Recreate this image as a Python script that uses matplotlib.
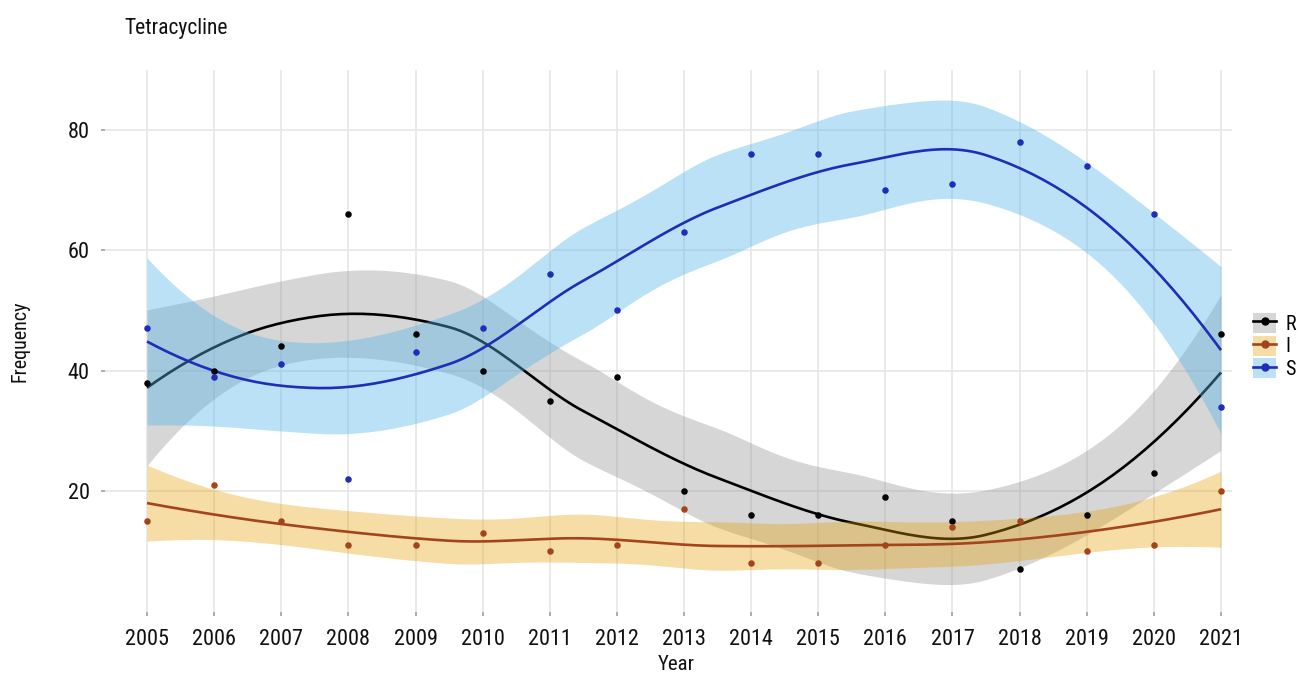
import math
import numpy as np
import matplotlib
matplotlib.use("Agg")
import matplotlib.pyplot as plt
from matplotlib import font_manager
from matplotlib.lines import Line2D
from matplotlib.patches import Patch

# ---- data -------------------------------------------------------------
years = [2005, 2006, 2007, 2008, 2009, 2010, 2011, 2012, 2013,
         2014, 2015, 2016, 2017, 2018, 2019, 2020, 2021]
resistant = [38, 40, 44, 66, 46, 40, 35, 39, 20, 16, 16, 19, 15, 7, 16, 23, 46]
intermediate = [15, 21, 15, 11, 11, 13, 10, 11, 17, 8, 8, 11, 14, 15, 10, 11, 20]
susceptible = [47, 39, 41, 22, 43, 47, 56, 50, 63, 76, 76, 70, 71, 78, 74, 66, 34]

series_names = ["R", "I", "S"]
y_ticks = [20, 40, 60, 80]

# ---- fonts ------------------------------------------------------------
available = {f.name for f in font_manager.fontManager.ttflist}
family = "DejaVu Sans"
for cand in ["Liberation Sans Narrow", "Roboto Condensed", "Liberation Sans"]:
    if cand in available:
        family = cand
        break
plt.rcParams["font.family"] = [family, "DejaVu Sans"]


# ---- local quadratic regression (loess, span 0.75) with 95% band --------
def local_rows(x, x0, span=0.75):
    """Operator rows giving the local fit value and slope at x0."""
    n = len(x)
    q = int(np.floor(n * span))
    d = np.abs(x - x0)
    h = np.sort(d)[q - 1]
    u = np.clip(d / h, 0, 1)
    w = (1 - u ** 3) ** 3
    X = np.column_stack([np.ones(n), x - x0, (x - x0) ** 2])
    XtW = X.T * w
    sol = np.linalg.solve(XtW @ X, XtW)
    return sol[0], sol[1]


def kd_vertices(x, span=0.75, cell=0.2):
    xs = np.sort(x)
    n = len(xs)
    fc = int(np.floor(n * span * cell))
    margin = 0.005 * (xs[-1] - xs[0])
    verts = {xs[0] - margin, xs[-1] + margin}

    def split(lo, hi):
        if hi - lo + 1 <= fc:
            return
        m = (lo + hi) // 2
        verts.add((xs[m] + xs[m + 1]) / 2)
        split(lo, m)
        split(m + 1, hi)

    split(0, n - 1)
    return np.array(sorted(verts))


def loess_operator(x, xnew, span=0.75):
    """Fitted-value operator, interpolated between kd-tree vertices."""
    v = kd_vertices(x, span)
    vals, slopes = zip(*(local_rows(x, vv, span) for vv in v))
    vals, slopes = np.array(vals), np.array(slopes)
    L = np.zeros((len(xnew), len(x)))
    for k, x0 in enumerate(xnew):
        j = int(np.clip(np.searchsorted(v, x0) - 1, 0, len(v) - 2))
        a, b = v[j], v[j + 1]
        hh = b - a
        t = (x0 - a) / hh
        h00 = 2 * t ** 3 - 3 * t ** 2 + 1
        h10 = t ** 3 - 2 * t ** 2 + t
        h01 = -2 * t ** 3 + 3 * t ** 2
        h11 = t ** 3 - t ** 2
        L[k] = (h00 * vals[j] + h10 * hh * slopes[j]
                + h01 * vals[j + 1] + h11 * hh * slopes[j + 1])
    return L


def t_quantile(p, df):
    c = math.exp(math.lgamma((df + 1) / 2) - math.lgamma(df / 2)) / math.sqrt(df * math.pi)
    grid = np.linspace(0, 20, 200001)
    pdf = c * (1 + grid ** 2 / df) ** (-(df + 1) / 2)
    cdf = 0.5 + np.concatenate([[0], np.cumsum((pdf[1:] + pdf[:-1]) / 2 * np.diff(grid))])
    return float(np.interp(p, cdf, grid))


def loess_smooth(x, y, xnew, level=0.95):
    x = np.asarray(x, float)
    y = np.asarray(y, float)
    Lfit = loess_operator(x, x)
    Lnew = loess_operator(x, xnew)
    resid = y - Lfit @ y
    IL = np.eye(len(x)) - Lfit
    M = IL.T @ IL
    d1 = np.trace(M)
    d2 = np.trace(M @ M)
    sigma = math.sqrt(np.sum(resid ** 2) / d1)
    se = sigma * np.sqrt(np.sum(Lnew ** 2, axis=1))
    tq = t_quantile(0.5 + level / 2, d1 ** 2 / d2)
    fit = Lnew @ y
    return fit, fit - tq * se, fit + tq * se


# ---- figure -----------------------------------------------------------
fig = plt.figure(figsize=(13.01, 6.75), dpi=100)
ax = fig.add_axes([105 / 1301, 1 - 612 / 675, 1127 / 1301, 542 / 675])

line_colors = ["#000000", "#a3441b", "#1f2db8"]
band_colors = ["#999999", "#e69f00", "#56b4e9"]
band_alpha = [0.40, 0.35, 0.40]

x_arr = np.asarray(years, float) - years[0]
xs = np.linspace(x_arr.min(), x_arr.max(), 200)

all_series = [resistant, intermediate, susceptible]
for i, vals in enumerate(all_series):
    fit, lo, hi = loess_smooth(x_arr, vals, xs)
    ax.fill_between(xs + years[0], lo, hi, color=band_colors[i], alpha=band_alpha[i],
                    linewidth=0, zorder=2 + i)
    ax.plot(xs + years[0], fit, color=line_colors[i], lw=1.9, zorder=2.5 + i,
            solid_capstyle="butt")

for i, vals in enumerate(all_series):
    ax.scatter(years, vals, s=22, color=line_colors[i], zorder=10, linewidths=0)

ax.set_xlim(2004.374, 2021.164)
ax.set_ylim(-0.1, 89.9)
ax.set_xticks(years)
ax.set_xticklabels([str(y) for y in years])
ax.set_yticks(y_ticks)
ax.grid(True, color="#e8e8e8", lw=1.3, zorder=0)
ax.set_axisbelow(True)
for sp in ax.spines.values():
    sp.set_visible(False)
ax.tick_params(axis="both", length=3, width=1.2, color="#a0a0a0",
               labelsize=16, labelcolor="#111111")
ax.tick_params(axis="x", pad=9)
ax.tick_params(axis="y", pad=8)

fig.text(124 / 1301, 1 - 34 / 675, "Tetracycline", fontsize=15.5, color="#111111",
         ha="left", va="baseline")
fig.text(20 / 1301, 1 - 341 / 675, "Frequency", fontsize=14.5, rotation=90,
         ha="center", va="center", color="#111111")
fig.text(676 / 1301, 1 - 665 / 675, "Year", fontsize=15, ha="center", va="center",
         color="#111111")

handles = []
for i in range(3):
    patch = Patch(facecolor=band_colors[i], alpha=band_alpha[i], edgecolor="none")
    ln = Line2D([], [], color=line_colors[i], lw=1.9, marker="o", markersize=5)
    handles.append((patch, ln))
fig.legend(handles, series_names, loc="center left",
           bbox_to_anchor=(1253 / 1301, 1 - 346 / 675), frameon=False,
           fontsize=14.5, handlelength=1.15, handleheight=1.15, labelspacing=0.1,
           handletextpad=0.45, borderpad=0, borderaxespad=0, numpoints=1)

fig.savefig("out.png", dpi=100, facecolor="white")
